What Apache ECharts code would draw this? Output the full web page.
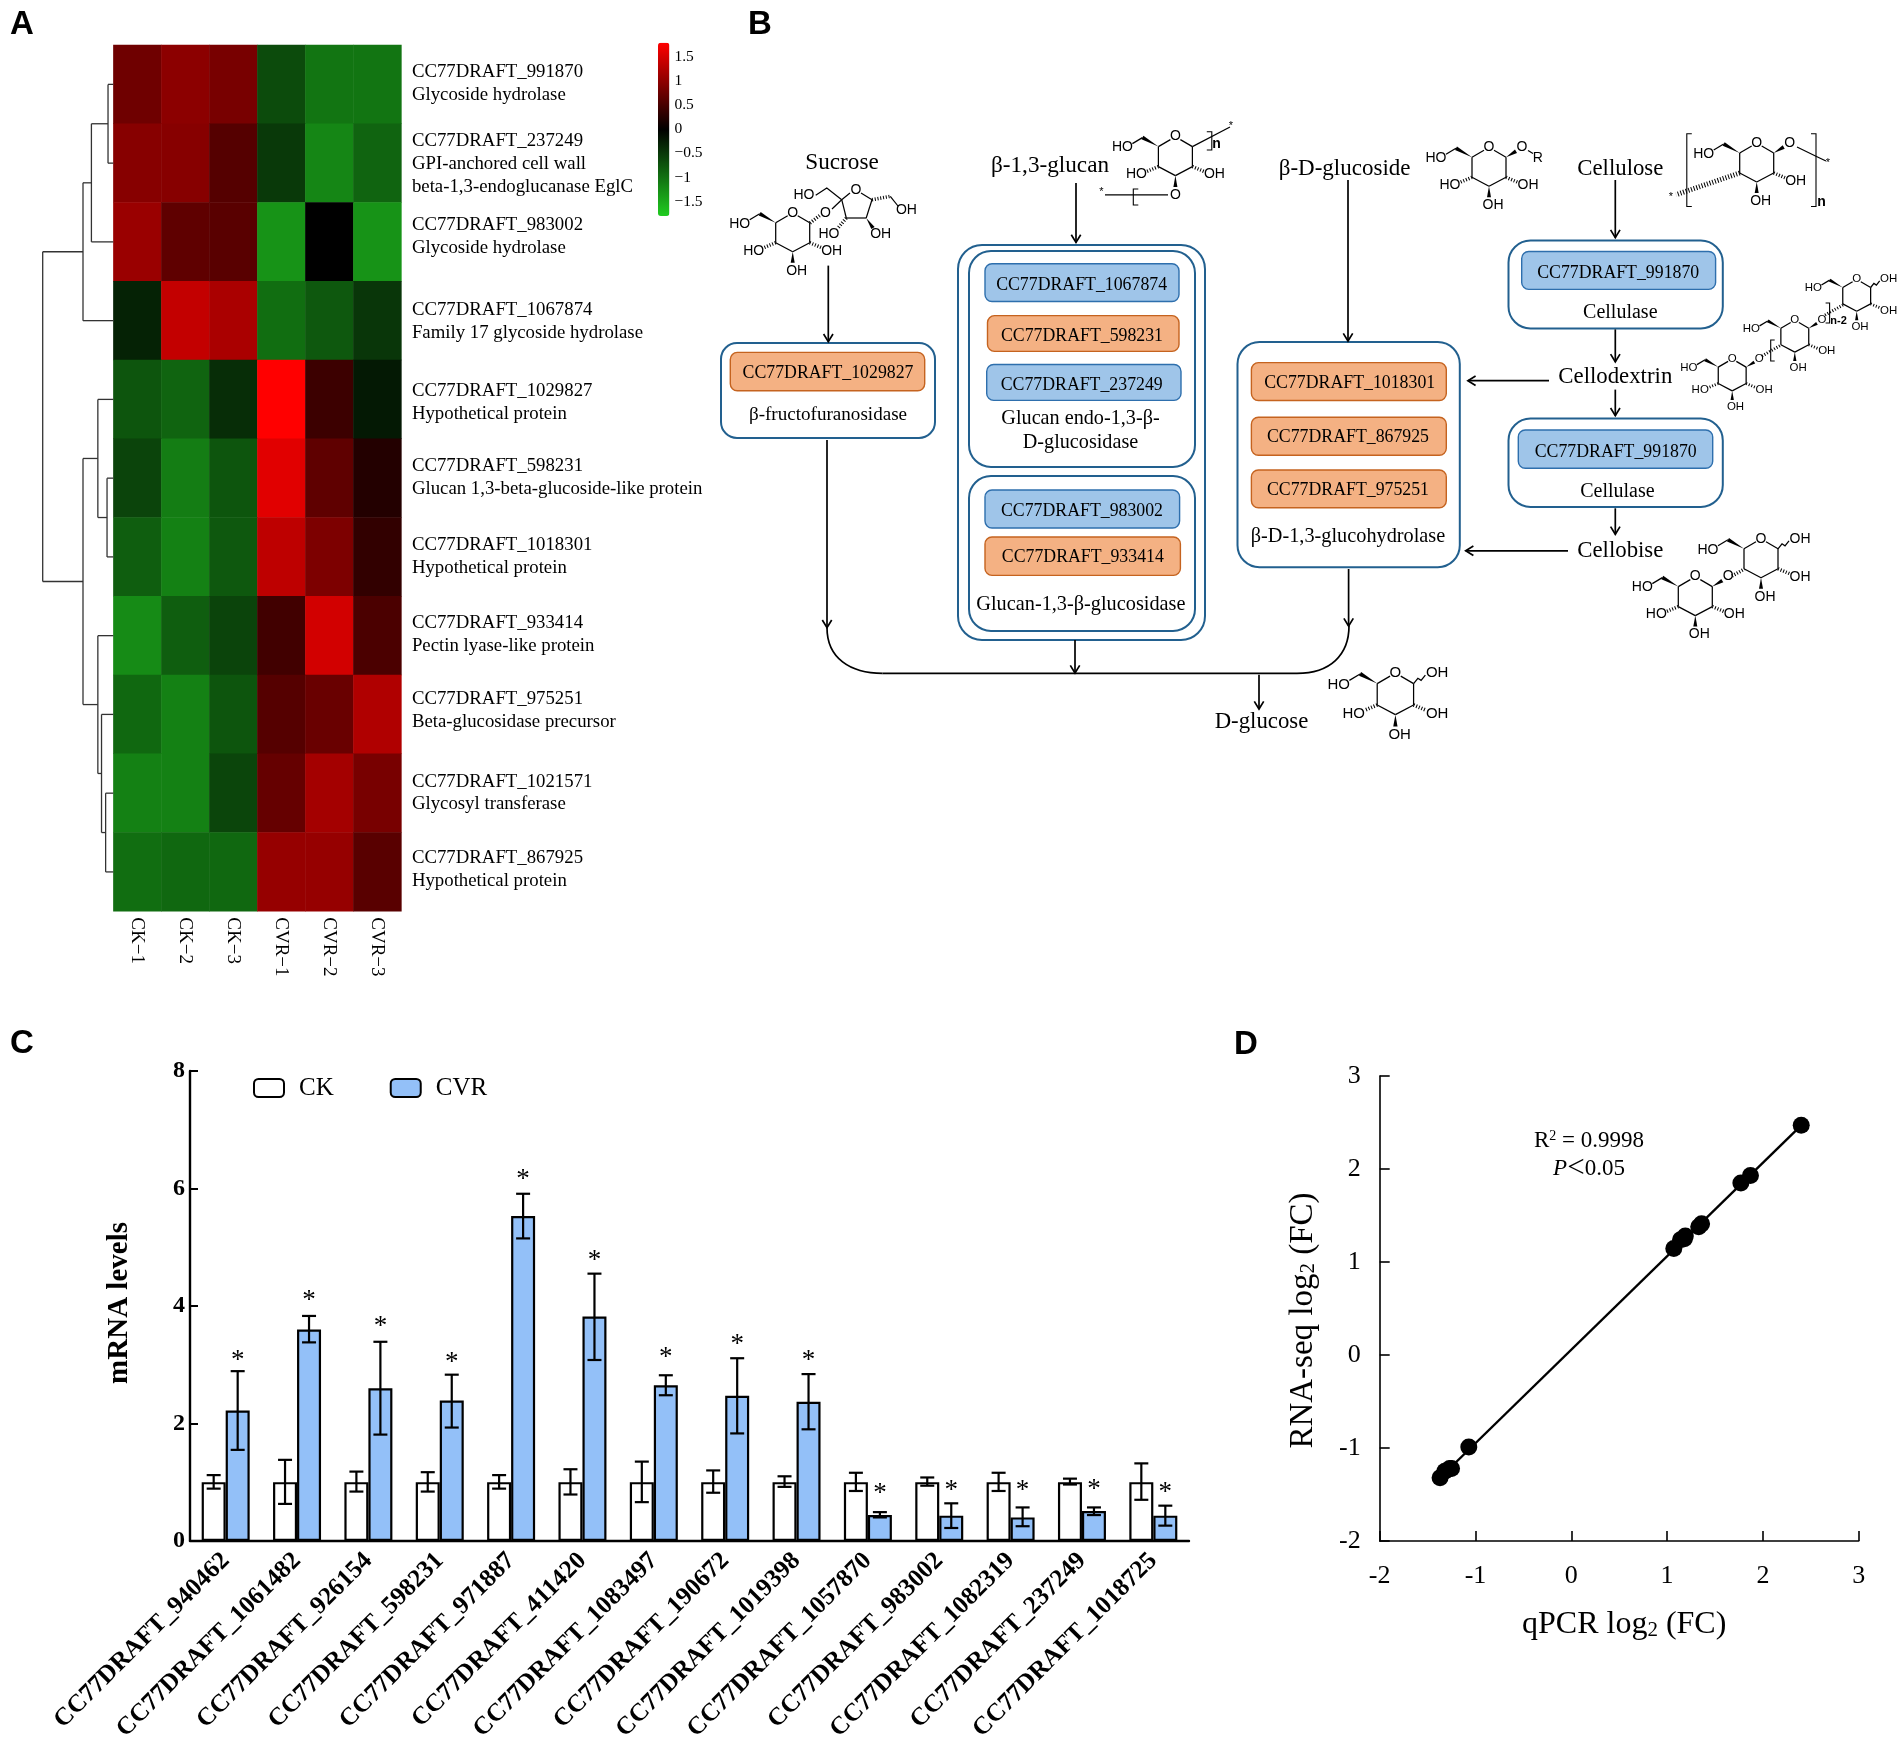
<!DOCTYPE html>
<html><head><meta charset="utf-8">
<style>html,body{margin:0;padding:0;background:#fff}#c{width:1904px;height:1750px}</style>
<script src="https://cdn.jsdelivr.net/npm/echarts@6/dist/echarts.min.js"></script>
</head><body><div id="c"></div>
<script>
// ---------- Panel A data ----------
const heatSamples = ['CK\u22121','CK\u22122','CK\u22123','CVR\u22121','CVR\u22122','CVR\u22123'];
const heatGenes = [
 'CC77DRAFT_991870\nGlycoside hydrolase',
 'CC77DRAFT_237249\nGPI-anchored cell wall\nbeta-1,3-endoglucanase EglC',
 'CC77DRAFT_983002\nGlycoside hydrolase',
 'CC77DRAFT_1067874\nFamily 17 glycoside hydrolase',
 'CC77DRAFT_1029827\nHypothetical protein',
 'CC77DRAFT_598231\nGlucan 1,3-beta-glucoside-like protein',
 'CC77DRAFT_1018301\nHypothetical protein',
 'CC77DRAFT_933414\nPectin lyase-like protein',
 'CC77DRAFT_975251\nBeta-glucosidase precursor',
 'CC77DRAFT_1021571\nGlycosyl transferase',
 'CC77DRAFT_867925\nHypothetical protein'];
const heatValues = [
 [0.78,0.99,0.85,-0.66,-1.03,-1.03],
 [0.95,0.95,0.60,-0.50,-1.18,-0.88],
 [1.09,0.67,0.63,-1.30,0.00,-1.30],
 [-0.30,1.38,1.20,-0.97,-0.78,-0.48],
 [-0.75,-0.88,-0.40,1.80,0.42,-0.22],
 [-0.60,-1.10,-0.75,1.59,0.67,0.25],
 [-0.83,-1.14,-0.78,1.34,0.88,0.35],
 [-1.23,-0.83,-0.60,0.46,1.48,0.53],
 [-0.92,-1.14,-0.75,0.60,0.74,1.24],
 [-1.14,-1.14,-0.61,0.71,1.16,0.85],
 [-0.97,-0.92,-0.92,1.06,1.06,0.63]];
const colorbarTicks = [-1.5,-1,-0.5,0,0.5,1,1.5];
// merge tree: [height, childA, childB]; a plain number is a heatmap row
const dendroTree = [1.0,
 [0.43,[0.311,[0.076,0,1],2],3],
 [0.43,[0.22,4,[0.09,5,6]],[0.22,7,[0.168,8,[0.11,9,10]]]]];

// ---------- Panel C data ----------
const qpcrGenes = ['CC77DRAFT_940462','CC77DRAFT_1061482','CC77DRAFT_926154','CC77DRAFT_598231','CC77DRAFT_971887','CC77DRAFT_411420','CC77DRAFT_1083497','CC77DRAFT_190672','CC77DRAFT_1019398','CC77DRAFT_1057870','CC77DRAFT_983002','CC77DRAFT_1082319','CC77DRAFT_237249','CC77DRAFT_1018725'];
const ckMean = [1,1,1,1,1,1,1,1,1,1,1,1,1,1];
const ckLow  = [0.89,0.63,0.84,0.84,0.89,0.79,0.66,0.82,0.92,0.85,0.94,0.85,0.96,0.70];
const ckHigh = [1.12,1.38,1.18,1.17,1.12,1.22,1.35,1.20,1.10,1.16,1.08,1.16,1.06,1.32];
const cvrMean = [2.22,3.60,2.60,2.39,5.53,3.82,2.65,2.47,2.37,0.44,0.43,0.40,0.51,0.43];
const cvrLow  = [1.55,3.38,1.81,1.93,5.15,3.08,2.48,1.83,1.90,0.40,0.22,0.25,0.44,0.26];
const cvrHigh = [2.89,3.83,3.39,2.83,5.91,4.55,2.82,3.11,2.84,0.49,0.64,0.57,0.57,0.60];
const starLevel = [3.12,4.13,3.70,3.09,6.20,4.82,3.16,3.38,3.11,0.85,0.90,0.90,0.92,0.87];

// ---------- Panel D data ----------
const qpcrFC = [2.40,1.87,1.77,1.33,1.36,1.19,1.14,1.18,1.07,-1.07,-1.25,-1.27,-1.32,-1.37];
const rnaFC  = [2.47,1.93,1.85,1.38,1.41,1.28,1.24,1.25,1.145,-0.99,-1.22,-1.22,-1.25,-1.32];
const fitX = [-1.37,2.40];
const fitY = [-1.32,2.47];

// ---------- Panel B text ----------
const substrates = ['Sucrose','\u03b2-1,3-glucan','\u03b2-D-glucoside','Cellulose','Cellodextrin','Cellobise','D-glucose'];
const enzymes = ['\u03b2-fructofuranosidase','Glucan endo-1,3-\u03b2-','D-glucosidase','Glucan-1,3-\u03b2-glucosidase','\u03b2-D-1,3-glucohydrolase','Cellulase'];

// ---------- helpers ----------
const SERIF='"Liberation Serif"', SANS='"Liberation Sans"';
const g=[];
const BLUE='#9FC5E9',BLUEL='#2E6FAD',ORG='#F4B183',ORGL='#C5631F',FRAME='#22608F';
function T(text,x,y,size,o={}){g.push({type:'text',silent:true,z:20,style:{text,x,y:y+(o.fam?0:1),fill:'#000',textAlign:o.align||'center',textVerticalAlign:'middle',font:(o.weight?o.weight+' ':'')+size+'px '+(o.fam||SERIF)}})}
function L(x1,y1,x2,y2,w=1.7){g.push({type:'line',silent:true,z:15,shape:{x1,y1,x2,y2},style:{stroke:'#000',lineWidth:w}})}
function PL(pts,w=1.2){g.push({type:'polyline',silent:true,z:15,shape:{points:pts},style:{stroke:'#000',lineWidth:w,fill:null}})}
function arrow(x1,y1,x2,y2){L(x1,y1,x2,y2);const a=Math.atan2(y2-y1,x2-x1),h=9,s=0.55;
 PL([[x2-h*Math.cos(a-s),y2-h*Math.sin(a-s)],[x2,y2],[x2-h*Math.cos(a+s),y2-h*Math.sin(a+s)]],1.7)}
function frame(x0,y0,x1,y1,r){g.push({type:'rect',silent:true,z:10,shape:{x:x0,y:y0,width:x1-x0,height:y1-y0,r},style:{fill:'#fff',stroke:FRAME,lineWidth:2}})}
function chip(name,blue,x0,y0,x1,y1,tx,ty){g.push({type:'rect',silent:true,z:12,shape:{x:x0,y:y0,width:x1-x0,height:y1-y0,r:7},style:{fill:blue?BLUE:ORG,stroke:blue?BLUEL:ORGL,lineWidth:1.4}});T(name,tx,ty,17.8)}
function wedge(a,b,w){const dx=b[0]-a[0],dy=b[1]-a[1],n=Math.hypot(dx,dy)||1,px=-dy/n*w,py=dx/n*w;
 g.push({type:'polygon',silent:true,z:15,shape:{points:[a,[b[0]+px,b[1]+py],[b[0]-px,b[1]-py]]},style:{fill:'#000'}})}
function hash(a,b,w=4){g.push({type:'line',silent:true,z:15,shape:{x1:a[0],y1:a[1],x2:b[0],y2:b[1]},style:{stroke:'#000',lineWidth:w,lineDash:[1,1.8]}})}
function star(x,y){T('*',x,y,11,{fam:SANS})}
function bracket(x,y0,y1,d){PL([[x+d,y0],[x,y0],[x,y1],[x+d,y1]],1.1)}
function pyran(cx,cy,s,o={}){
 const P=(x,y)=>[cx+x*s,cy+y*s],f=14*s,lw=1.25;
 const seg=(a,b)=>PL([a,b],lw);
 seg(P(-17,-10),P(-5,-17));seg(P(5,-17),P(17,-10));seg(P(17,-10),P(17,10));seg(P(17,10),P(0,19));seg(P(0,19),P(-17,10));seg(P(-17,10),P(-17,-10));
 const txt=(t,a)=>T(t,a[0],a[1],f,{fam:SANS});
 txt('O',P(0,-20));
 wedge(P(-17,-10),P(-33,-19),2*s);seg(P(-33,-19),P(-43,-13));txt('HO',P(-53,-9));
 if(o.low!==false){hash(P(-17,10),P(-29,15),3.5*s);txt('HO',P(-39,18))}
 if(o.high!==false){hash(P(17,10),P(29,15),3.5*s);txt('OH',P(39,18))}
 if(o.bot!==false){wedge(P(0,19),P(0,30),2*s);txt('OH',P(4,38))}
 if(o.c1==='or'){wedge(P(17,-10),P(27,-16),2*s);txt('O',P(33,-20))}
 if(o.c1==='oh'){PL([P(17,-10),P(21,-15),P(24,-13),P(28,-18)],lw);txt('OH',P(39,-20))}
}

// ---------- Panel letters ----------
T('A',22,25,33,{fam:SANS,weight:'bold'});T('B',760,25,33,{fam:SANS,weight:'bold'});
T('C',22,1044,33,{fam:SANS,weight:'bold'});T('D',1246,1045,33,{fam:SANS,weight:'bold'});

// ---------- Panel B drawing ----------
// frames and chips
frame(721,343,935,438,16);
chip('CC77DRAFT_1029827',false,730.3,352.4,924.7,390.7,828,372);
frame(958,245,1205,640,24);
frame(969,251,1195,467,22);
frame(969,476,1195,631,22);
chip('CC77DRAFT_1067874',true,985,263.7,1179,301.5,1081.6,284);
chip('CC77DRAFT_598231',false,987.5,315.6,1179,351.4,1082,335);
chip('CC77DRAFT_237249',true,986.7,364.5,1181,400.4,1081.7,384);
chip('CC77DRAFT_983002',true,985,490,1179.6,528,1082,510);
chip('CC77DRAFT_933414',false,985,537,1180.4,575.4,1082.8,556.5);
frame(1237.5,342,1459.8,567.2,22);
chip('CC77DRAFT_1018301',false,1251.4,362.6,1446.3,400.5,1349.7,382);
chip('CC77DRAFT_867925',false,1251.4,417.3,1446.3,455.2,1348,436.3);
chip('CC77DRAFT_975251',false,1251.4,470,1446.3,507.8,1348,489);
frame(1508.5,240.6,1722.8,328.5,22);
chip('CC77DRAFT_991870',true,1521.7,251.5,1715.6,289.4,1618.2,272);
frame(1508.5,418.6,1722.8,507,22);
chip('CC77DRAFT_991870',true,1518.3,430,1712.7,468.3,1615.7,451);
// enzyme and substrate captions
T(enzymes[0],828,413.5,19.1);T(enzymes[1],1080.5,417.8,20.2);T(enzymes[2],1080.5,442,20.2);
T(enzymes[3],1080.9,603.5,20.3);T(enzymes[4],1348,535.2,20.3);T(enzymes[5],1620.3,312,20);T(enzymes[5],1617.4,490.6,20);
T(substrates[0],842,162.4,23.2);T(substrates[1],1050,165.3,23.2);T(substrates[2],1344.6,168,23);
T(substrates[3],1620.3,168,22.8);T(substrates[4],1615.3,375.7,22.8);T(substrates[5],1620.3,550,22.8);T(substrates[6],1261.5,720.8,22.8);
// arrows
arrow(828.3,265.6,828.3,341.7);arrow(1076,183,1076,242.4);arrow(1348,180,1348,341);arrow(1615.3,180,1615.3,237.6);
arrow(1615.3,329.4,1615.3,361.8);arrow(1615.3,389.6,1615.3,415.7);arrow(1615.3,508.3,1615.3,534.3);
arrow(1549,380.7,1467.9,380.7);arrow(1568,550.8,1465.7,550.8);
arrow(827,440,827,627.7);arrow(1348.6,569,1348.6,626);arrow(1075,640,1075,673);arrow(1259,674.7,1259,709);
L(882.6,673.3,1297,673.3);
g.push({type:'bezierCurve',silent:true,z:15,shape:{x1:827,y1:627.7,x2:882.6,y2:673.3,cpx1:827,cpy1:658,cpx2:850,cpy2:673.3},style:{stroke:'#000',lineWidth:1.7,fill:null}});
g.push({type:'bezierCurve',silent:true,z:15,shape:{x1:1297,y1:673.3,x2:1349,y2:626,cpx1:1330,cpy1:673.3,cpx2:1349,cpy2:655},style:{stroke:'#000',lineWidth:1.7,fill:null}});
// sucrose
pyran(792.7,232.7,1,{});
hash([810,223],[820.3,215],3.5);T('O',825.5,213.3,14,{fam:SANS});PL([[832,209],[841.7,199.7]]);
PL([[841.7,199.7],[850,193]]);PL([[861,193],[872,199.7]]);T('O',855.9,190,14,{fam:SANS});
PL([[841.7,199.7],[846.3,218]]);PL([[846.3,218],[866.2,218]]);PL([[866.2,218],[872,199.7]]);
T('HO',804,195,14,{fam:SANS});PL([[815.7,195.3],[826.8,188],[841.7,199.7]]);
hash([872,199.7],[890.3,196.3],3.5);PL([[890.3,196.3],[898,206]]);T('OH',906.4,210.4,14,{fam:SANS});
hash([846.3,218],[838,228],3.5);T('HO',829,234,14,{fam:SANS});
wedge([866.2,218],[873,228],2);T('OH',880.7,234,14,{fam:SANS});
// beta-1,3-glucan
pyran(1175.4,156.6,1,{bot:false});
wedge([1175.4,175.6],[1175.4,187],2);T('O',1175.4,194.9,14,{fam:SANS});
PL([[1105,194.9],[1168,194.9]]);star(1101.5,192);bracket(1133.3,189,205,5);
PL([[1192.4,146.6],[1230,127]]);star(1231,126);bracket(1211.8,131.8,150,-5);T('n',1216.5,144.4,14,{fam:SANS,weight:'bold'});
// beta-D-glucoside
pyran(1489,167.3,1,{c1:'or'});PL([[1528,150.5],[1533,153.5]]);T('R',1537.8,158,14,{fam:SANS});
// cellulose
pyran(1756.7,163,1,{low:false,c1:'or'});
hash([1739.7,173],[1676,194.7],5);star(1671,197);
PL([[1797,147],[1817,156.8],[1826,161]]);star(1828,163);
bracket(1686.8,133.7,206.5,5);bracket(1816,133.7,206.5,-5);T('n',1821.5,202,14,{fam:SANS,weight:'bold'});
// cellodextrin
pyran(1732.2,375.3,0.82,{c1:'or'});
pyran(1794.8,336.5,0.82,{low:false,c1:'or'});
hash([1762,356],[1781,345],3);bracket(1770.7,340,361,4);bracket(1829.6,303,323,-4);T('n-2',1838.5,321,11,{fam:SANS,weight:'bold'});
pyran(1856.7,295.7,0.82,{low:false,c1:'oh'});
hash([1825,315],[1843,305],3);
// cellobiose
pyran(1761,558.8,1,{low:false,c1:'oh'});
pyran(1695.3,596.6,1,{c1:'or'});
hash([1732,576],[1744.5,569],3.5);
// D-glucose
pyran(1395.4,694.3,1.07,{c1:'oh'});
// R2 annotation of panel D
g.push({type:'text',silent:true,z:20,style:{text:'{a|R}{s|2}{a| = 0.9998}',x:1589,y:1141,textAlign:'center',textVerticalAlign:'middle',
 rich:{a:{font:'23px '+SERIF,fill:'#000'},s:{font:'14px '+SERIF,fill:'#000',padding:[0,0,9,0]}}}});
g.push({type:'text',silent:true,z:20,style:{text:'{i|P}{l|<}{a|0.05}',x:1589,y:1169,textAlign:'center',textVerticalAlign:'middle',
 rich:{a:{font:'23px '+SERIF,fill:'#000'},i:{font:'italic 23px '+SERIF,fill:'#000'},l:{font:'31px '+SERIF,fill:'#000'}}}});

// ---------- series data builders ----------
const heatData=[];heatValues.forEach((row,r)=>row.forEach((v,c)=>heatData.push([c,r,v])));
const dendroSegs=[];
(function walk(n){if(typeof n==='number')return{h:0,y:n+0.5};
 const a=walk(n[1]),b=walk(n[2]),h=n[0];
 dendroSegs.push([a.h,a.y,h,a.y],[h,a.y,h,b.y],[h,b.y,b.h,b.y]);
 return{h,y:(a.y+b.y)/2}})(dendroTree);

const BAR=24;
function errItem(offset){return function(params,api){
 const c=api.value(0),x=api.coord([c,0])[0]+offset,lo=api.coord([c,api.value(1)])[1],hi=api.coord([c,api.value(2)])[1];
 const st={stroke:'#000',lineWidth:2.2};
 return{type:'group',children:[{x1:x,y1:lo,x2:x,y2:hi},{x1:x-7,y1:lo,x2:x+7,y2:lo},{x1:x-7,y1:hi,x2:x+7,y2:hi}].map(s=>({type:'line',shape:s,style:st}))}}}

// vertical offset of each gene caption from its row centre
const rowNudge=[-0.6,0.9,-5,1.2,3.3,-0.4,-0.1,-1.2,-4.2,0,-2.2];

const option={
 animation:false,backgroundColor:'#fff',
 graphic:{elements:g},
 legend:{data:['CK','CVR'],left:253,top:1075.5,padding:0,itemWidth:30,itemHeight:18,itemGap:56,
  textStyle:{fontFamily:SERIF,fontSize:25,color:'#000',padding:[0,0,0,10]}},
 visualMap:{type:'continuous',seriesIndex:0,dimension:2,min:-1.8,max:1.8,calculable:false,hoverLink:false,
  left:658,top:42.7,itemWidth:11.4,itemHeight:173.3,padding:0,text:null,
  inRange:{color:['#20cc20','#000000','#ff0000']}},
 grid:[
  {left:113.4,top:45,width:288,height:866.3},
  {left:42.7,top:45,width:70.7,height:866.3},
  {left:669.4,top:42.7,width:1,height:173.3},
  {left:190,top:1071,width:999,height:471},
  {left:1379.7,top:1076,width:479,height:465}],
 xAxis:[
  {gridIndex:0,type:'category',data:heatSamples,axisLine:{show:false},axisTick:{show:false},
   axisLabel:{rotate:-90,margin:6,fontFamily:SERIF,fontSize:19,color:'#000'}},
  {gridIndex:1,type:'value',min:0,max:1,inverse:true,show:false},
  {gridIndex:2,type:'value',min:0,max:1,show:false},
  {gridIndex:3,type:'category',data:qpcrGenes,axisLine:{lineStyle:{color:'#000',width:2.4}},axisTick:{show:false},
   axisLabel:{rotate:45,interval:0,margin:16,lineHeight:42,fontFamily:SERIF,fontWeight:'bold',fontSize:25.2,color:'#000'}},
  {gridIndex:4,type:'value',min:-2,max:3,interval:1,splitLine:{show:false},
   axisLine:{onZero:false,lineStyle:{color:'#000',width:1.6}},axisTick:{inside:true,length:10,lineStyle:{color:'#000',width:1.6}},
   axisLabel:{margin:22,fontFamily:SERIF,fontSize:26,color:'#000'},
   name:'{a|qPCR log}{b|2}{a| (FC)}',nameLocation:'middle',nameGap:68,
   nameTextStyle:{padding:[0,0,0,10],rich:{a:{fontFamily:SERIF,fontSize:32,color:'#000'},b:{fontFamily:SERIF,fontSize:21,color:'#000',padding:[10,0,0,0]}}}}
 ],
 yAxis:[
  {gridIndex:0,type:'category',inverse:true,position:'right',data:heatGenes,
   axisLine:{show:false},axisTick:{show:false},axisLabel:{show:false}},
  {gridIndex:1,type:'value',min:0,max:11,inverse:true,show:false},
  {gridIndex:2,type:'value',min:-1.8,max:1.8,position:'right',splitLine:{show:false},axisLine:{show:false},axisTick:{show:false},
   axisLabel:{customValues:colorbarTicks,margin:4,fontFamily:SERIF,fontSize:15.5,color:'#000',formatter:v=>String(v).replace('-','\u2212')}},
  {gridIndex:3,type:'value',min:0,max:8,interval:2,splitLine:{show:false},
   axisLine:{show:true,lineStyle:{color:'#000',width:2.4}},axisTick:{show:true,inside:true,length:8,lineStyle:{color:'#000',width:2}},
   axisLabel:{margin:5,fontFamily:SERIF,fontWeight:'bold',fontSize:24,color:'#000'},
   name:'mRNA levels',nameLocation:'middle',nameGap:56,nameTextStyle:{fontFamily:SERIF,fontWeight:'bold',fontSize:29,color:'#000',padding:[0,0,0,6]}},
  {gridIndex:4,type:'value',min:-2,max:3,interval:1,splitLine:{show:false},
   axisLine:{onZero:false,show:true,lineStyle:{color:'#000',width:1.6}},axisTick:{show:true,inside:true,length:10,lineStyle:{color:'#000',width:1.6}},
   axisLabel:{margin:19,fontFamily:SERIF,fontSize:26,color:'#000'},
   name:'{a|RNA-seq log}{b|2}{a| (FC)}',nameLocation:'middle',nameGap:60,
   nameTextStyle:{padding:[0,24,0,0],rich:{a:{fontFamily:SERIF,fontSize:33,color:'#000'},b:{fontFamily:SERIF,fontSize:21,color:'#000',padding:[10,0,0,0]}}}}
 ],
 series:[
  {type:'heatmap',xAxisIndex:0,yAxisIndex:0,data:heatData,itemStyle:{borderWidth:0},silent:true},
  {type:'custom',xAxisIndex:1,yAxisIndex:1,data:dendroSegs,silent:true,encode:{x:[0,2],y:[1,3]},
   renderItem:(p,api)=>{const a=api.coord([api.value(0),api.value(1)]),b=api.coord([api.value(2),api.value(3)]);
    return{type:'line',shape:{x1:a[0],y1:a[1],x2:b[0],y2:b[1]},style:{stroke:'#333',lineWidth:1.3}}}},
  {name:'CK',type:'bar',xAxisIndex:3,yAxisIndex:3,data:ckMean,barWidth:BAR,barGap:0,silent:true,
   itemStyle:{color:'#fff',borderColor:'#000',borderWidth:2.2}},
  {name:'CVR',type:'bar',xAxisIndex:3,yAxisIndex:3,data:cvrMean,barWidth:BAR,barGap:0,silent:true,
   itemStyle:{color:'#93C0F8',borderColor:'#000',borderWidth:2.2}},
  {type:'custom',xAxisIndex:3,yAxisIndex:3,silent:true,z:5,data:ckMean.map((_,i)=>[i,ckLow[i],ckHigh[i]]),encode:{x:0,y:[1,2]},renderItem:errItem(-BAR/2)},
  {type:'custom',xAxisIndex:3,yAxisIndex:3,silent:true,z:5,data:cvrMean.map((_,i)=>[i,cvrLow[i],cvrHigh[i]]),encode:{x:0,y:[1,2]},renderItem:errItem(BAR/2)},
  {type:'custom',xAxisIndex:3,yAxisIndex:3,silent:true,z:6,data:starLevel.map((v,i)=>[i,v]),encode:{x:0,y:1},
   renderItem:(p,api)=>{const c=api.coord([api.value(0),api.value(1)]);
    return{type:'text',style:{text:'*',x:c[0]+BAR/2,y:c[1]+3,textAlign:'center',textVerticalAlign:'middle',font:'27px '+SERIF,fill:'#000'}}}},
  {type:'line',xAxisIndex:4,yAxisIndex:4,silent:true,symbol:'none',data:fitX.map((x,i)=>[x,fitY[i]]),lineStyle:{color:'#000',width:2.4}},
  {type:'scatter',xAxisIndex:4,yAxisIndex:4,silent:true,symbol:'circle',symbolSize:17,data:qpcrFC.map((x,i)=>[x,rnaFC[i]]),itemStyle:{color:'#000',opacity:1}},
  {type:'custom',xAxisIndex:0,yAxisIndex:0,silent:true,z:6,clip:false,data:heatGenes.map((_,i)=>[5,i]),encode:{x:0,y:1},
   renderItem:(p,api)=>{const r=api.value(1),c=api.coord([5,r]),w=api.size([1,1])[0];
    return{type:'text',style:{text:heatGenes[r],x:c[0]+w/2+10.5,y:c[1]+rowNudge[r],textAlign:'left',textVerticalAlign:'middle',font:'18.8px '+SERIF,lineHeight:22.8,fill:'#000'}}}}
 ]};
echarts.init(document.getElementById('c'),null,{renderer:'canvas'}).setOption(option);
</script></body></html>
